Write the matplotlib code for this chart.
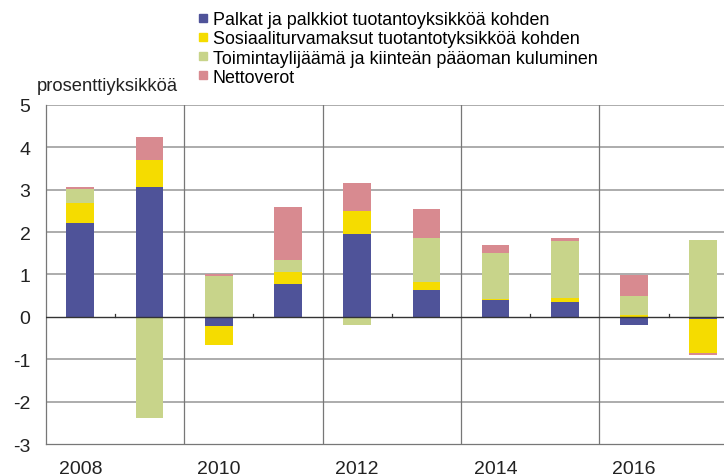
import numpy as np
import matplotlib
matplotlib.use("Agg")
import matplotlib.pyplot as plt
from matplotlib.lines import Line2D

years = [2008, 2009, 2010, 2011, 2012, 2013, 2014, 2015, 2016, 2017]
tick_labels = ["2008", "2010", "2012", "2014", "2016"]

palkat = [2.21, 3.07, -0.21, 0.78, 1.96, 0.64, 0.40, 0.35, -0.20, -0.06]
sosiaali = [0.48, 0.62, -0.46, 0.28, 0.53, 0.18, 0.03, 0.10, 0.04, -0.79]
toiminta = [0.33, -2.37, 0.97, 0.27, -0.20, 1.03, 1.08, 1.35, 0.46, 1.82]
nettoverot = [0.05, 0.55, 0.03, 1.25, 0.66, 0.70, 0.18, 0.07, 0.49, -0.05]

series = [
    ("Palkat ja palkkiot tuotantoyksikköä kohden", palkat, "#4f5399"),
    ("Sosiaaliturvamaksut tuotantotyksikköä kohden", sosiaali, "#f5dc00"),
    ("Toimintaylijäämä ja kiinteän pääoman kuluminen", toiminta, "#c8d48a"),
    ("Nettoverot", nettoverot, "#d88a90"),
]

plt.rcParams["font.family"] = ["Liberation Sans", "DejaVu Sans"]
plt.rcParams["axes.unicode_minus"] = False

fig = plt.figure(figsize=(7.24, 4.77), dpi=100)
ax = fig.add_axes([0.0631, 0.0665, 0.956, 0.712])

x = np.arange(len(years))
pos_base = np.zeros(len(years))
neg_base = np.zeros(len(years))
for label, vals, color in series:
    v = np.array(vals)
    bottoms = np.where(v >= 0, pos_base, neg_base)
    ax.bar(x, v, width=0.4, bottom=bottoms, color=color, zorder=3)
    pos_base = pos_base + np.where(v >= 0, v, 0)
    neg_base = neg_base + np.where(v < 0, v, 0)

ax.set_xlim(-0.5, len(years) - 0.5)
ax.set_ylim(-3, 5)
ax.set_yticks(range(-3, 6))
ax.set_xticks(x[::2])
ax.set_xticklabels(tick_labels)
ax.tick_params(axis="both", length=0, labelsize=14, colors="#222222")
ax.tick_params(axis="x", pad=11)
ax.tick_params(axis="y", pad=11)

# horizontal grid
for yv in range(-2, 6):
    if yv != 0:
        ax.axhline(yv, color="#a6a6a6", lw=1.3, zorder=1)
ax.axhline(0, color="#333333", lw=1.0, zorder=4)
# vertical separators between year pairs
for xv in [1.5, 3.5, 5.5, 7.5]:
    ax.axvline(xv, color="#777777", lw=0.9, zorder=1)
# small ticks on zero line
for xv in [0.5, 2.5, 4.5, 6.5, 8.5]:
    ax.plot([xv, xv], [0, 0.08], color="#333333", lw=0.9, zorder=4)

for side in ["top", "right"]:
    ax.spines[side].set_visible(False)
for side in ["left", "bottom"]:
    ax.spines[side].set_color("#777777")
    ax.spines[side].set_linewidth(0.9)

fig.text(0.051, 0.81, "prosenttiyksikköä", fontsize=13.2, color="#222222")

handles = [Line2D([], [], marker="s", linestyle="none", markersize=6,
                  color=c) for _, _, c in series]
fig.legend(handles, [s[0] for s in series], loc="upper left",
           bbox_to_anchor=(0.247, 1.008), frameon=False,
           handletextpad=0.1, labelspacing=0.12, handlelength=0.9,
           prop={"size": 12.9})

fig.savefig("out.png", dpi=100)
